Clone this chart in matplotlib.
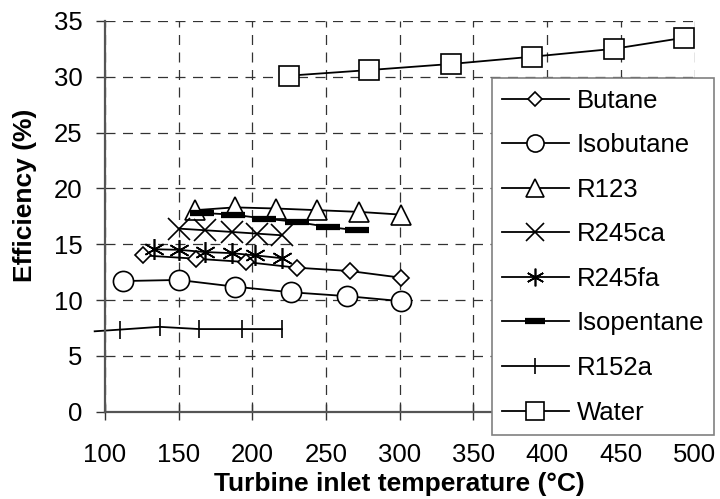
import matplotlib.pyplot as plt
import numpy as np

plt.rcParams['font.family'] = ['Liberation Sans', 'DejaVu Sans']

# values
butane_x = [126, 162, 196, 230, 266, 301]
butane_y = [14.0, 13.7, 13.4, 12.9, 12.6, 12.0]

isobutane_x = [112, 150, 188, 226, 264, 301]
isobutane_y = [11.7, 11.8, 11.2, 10.7, 10.35, 9.9]

r123_x = [161, 188, 216, 244, 272, 301]
r123_y = [18.05, 18.3, 18.2, 18.05, 17.9, 17.65]

r245ca_x = [150, 168, 186, 203, 220]
r245ca_y = [16.4, 16.25, 16.1, 15.95, 15.8]

r245fa_x = [133, 150, 168, 186, 202, 220]
r245fa_y = [14.55, 14.5, 14.3, 14.2, 14.0, 13.75]

isopentane_x = [166, 187, 208, 230, 251, 271]
isopentane_y = [17.8, 17.65, 17.3, 17.0, 16.55, 16.25]

r152a_x = [93, 110, 137, 164, 193, 220]
r152a_y = [7.2, 7.35, 7.6, 7.4, 7.4, 7.4]

water_x = [225, 279, 335, 390, 445, 493]
water_y = [30.1, 30.6, 31.15, 31.8, 32.5, 33.5]

fig = plt.figure(figsize=(7.2, 4.99), dpi=100)
ax = fig.add_axes([0.1458, 0.175, 0.8189, 0.783])

common = dict(color='black', linewidth=1.3, markerfacecolor='white',
              markeredgecolor='black', markeredgewidth=1.2)

ax.plot(butane_x, butane_y, marker='D', markersize=8, label='Butane', **common)
ax.plot(isobutane_x, isobutane_y, marker='o', markersize=14.5, label='Isobutane', **common)
ax.plot(r123_x, r123_y, marker='^', markersize=15, label='R123', **common)
ax.plot(r245ca_x, r245ca_y, marker='x', markersize=16, label='R245ca', **common)
ax.plot(r245fa_x, r245fa_y, marker=(6, 2, 0), markersize=15, label='R245fa', **common)
ax.plot(isopentane_x, isopentane_y, color='black', linewidth=1.3, marker='_',
        markersize=17, markeredgewidth=4.5, label='Isopentane')
ax.plot(r152a_x, r152a_y, marker='|', markersize=13, markevery=range(1, 6),
        clip_on=False, label='R152a', **common)
ax.plot(water_x, water_y, marker='s', markersize=14.5, label='Water', **common)

ax.set_xlim(100, 500)
ax.set_ylim(0, 35)
ax.set_xticks(np.arange(100, 501, 50))
ax.set_yticks(np.arange(0, 36, 5))

ax.grid(True, color='#333333', linewidth=0.9, linestyle=(0, (8, 6)))
ax.set_axisbelow(True)

for s in ['top', 'right']:
    ax.spines[s].set_visible(False)
for s in ['left', 'bottom']:
    ax.spines[s].set_color('#555555')
    ax.spines[s].set_linewidth(1.6)

ax.tick_params(axis='x', direction='inout', length=11, width=1, color='#333333',
               labelsize=18.5, pad=17)
ax.tick_params(axis='y', direction='out', length=6.5, width=1, color='#333333',
               labelsize=18.5, pad=9.5)

ax.set_xlabel('Turbine inlet temperature (°C)', fontsize=19, fontweight='bold')
ax.set_ylabel('Efficiency (%)', fontsize=19, fontweight='bold')
ax.xaxis.set_label_coords(0.5, -0.155)
ax.yaxis.set_label_coords(-0.115, 0.555)

leg = fig.legend(loc='upper left', bbox_to_anchor=(0.683, 0.843), fontsize=18.5,
                 numpoints=1, handlelength=2.6, handletextpad=0.3, markerscale=0.85,
                 labelspacing=0.8, borderpad=0.4, borderaxespad=0,
                 fancybox=False, framealpha=1)
leg.get_frame().set_edgecolor('#808080')
leg.get_frame().set_linewidth(1.2)

plt.savefig('out.png', dpi=100)
